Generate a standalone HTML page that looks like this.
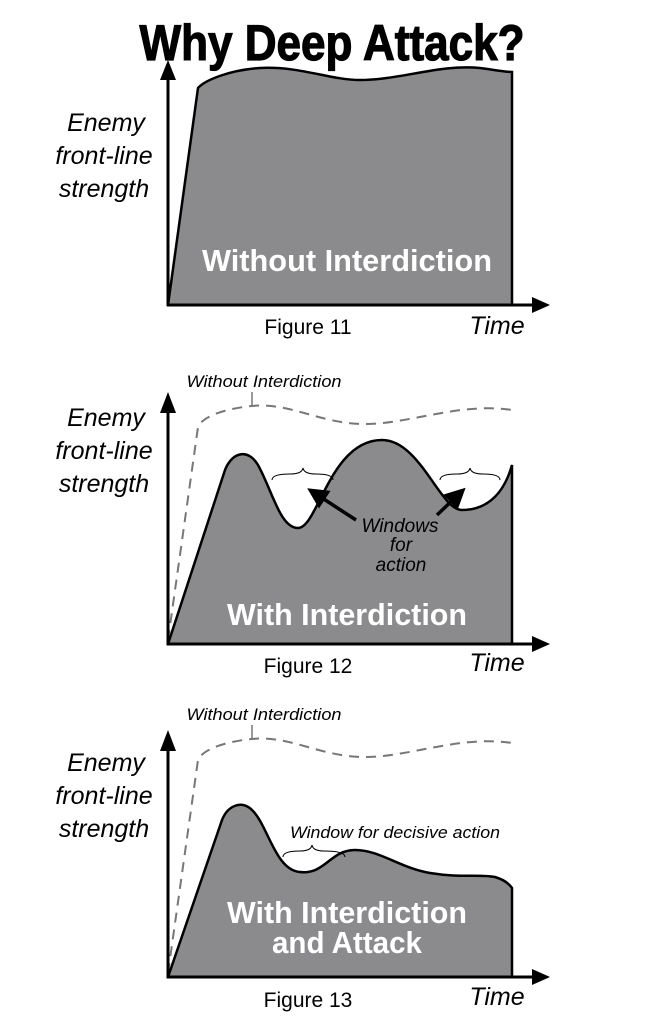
<!DOCTYPE html>
<html><head><style>
body{margin:0;background:#fff}
svg{display:block}
.it{font-family:"Liberation Sans",sans-serif;font-style:italic}
.b{font-family:"Liberation Sans",sans-serif;font-weight:bold;fill:#fff}
.f{font-family:"Liberation Sans",sans-serif;font-size:21px}
</style></head><body>
<svg width="645" height="1024" viewBox="0 0 645 1024">
<defs>
<marker id="ah" markerWidth="6" markerHeight="6" refX="3" refY="3" orient="auto"><path d="M0,0L6,3L0,6z" fill="#000"/></marker>
</defs>
<text x="332" y="60" text-anchor="middle" font-family="Liberation Sans,sans-serif" font-weight="bold" font-size="50" stroke="#000" stroke-width="1.2" textLength="385" lengthAdjust="spacingAndGlyphs">Why Deep Attack?</text>

<!-- Fig 11 -->
<g>
<path d="M168,305 L198,88 C205,80 230,70 260,68 C300,66 330,80 360,80 C400,80 440,64 480,68 C495,70 505,72 512,72 L512,305Z" fill="#8b8b8d" stroke="#000" stroke-width="2.5"/>
<line x1="168" y1="306" x2="168" y2="78" stroke="#000" stroke-width="3"/>
<path d="M160,80 L168,60 L176,80Z"/>
<line x1="167" y1="305" x2="535" y2="305" stroke="#000" stroke-width="3"/>
<path d="M532,297 L550,305 L532,313Z"/>
<text class="b" x="347" y="271" text-anchor="middle" font-size="31" textLength="290" lengthAdjust="spacingAndGlyphs">Without Interdiction</text>
<text class="f" x="308" y="334" text-anchor="middle">Figure 11</text>
<text class="it" x="497" y="334" text-anchor="middle" font-size="25">Time</text>
<g class="it" font-size="25" text-anchor="middle"><text x="106" y="131">Enemy</text><text x="104" y="164">front-line</text><text x="104" y="197">strength</text></g>
</g>

<!-- Fig 12 -->
<g>
<path d="M168,644 L225,470 C232,452 248,448 258,465 C272,490 280,528 298,528 C318,528 330,440 382,440 C420,440 440,510 462,510 C490,510 505,490 512,465 L512,644Z" fill="#8b8b8d" stroke="#000" stroke-width="2.5"/>
<path d="M168,640 L198,427 C203,415 230,408 252,406 C290,402 320,424 365,424 C410,424 460,402 512,410" fill="none" stroke="#777" stroke-width="2" stroke-dasharray="10,7"/>
<line x1="252" y1="406" x2="252" y2="392" stroke="#777" stroke-width="1.5"/>
<text class="it" x="264" y="387" text-anchor="middle" font-size="17" textLength="155" lengthAdjust="spacingAndGlyphs">Without Interdiction</text>
<path d="M272,480 Q272,474 290,474 Q302,474 303,468 Q304,474 316,474 Q333,474 333,480" fill="none" stroke="#000" stroke-width="1"/>
<path d="M440,480 Q440,474 457,474 Q469,474 470,468 Q471,474 483,474 Q500,474 500,480" fill="none" stroke="#000" stroke-width="1"/>
<line x1="356" y1="520" x2="316" y2="494" stroke="#000" stroke-width="3.5" marker-end="url(#ah)"/>
<line x1="437" y1="515" x2="458" y2="495" stroke="#000" stroke-width="3.5" marker-end="url(#ah)"/>
<g class="it" font-size="19" text-anchor="middle"><text x="400" y="532">Windows</text><text x="401" y="551">for</text><text x="401" y="571">action</text></g>
<line x1="168" y1="645" x2="168" y2="412" stroke="#000" stroke-width="3"/>
<path d="M160,413 L168,392 L176,413Z"/>
<line x1="167" y1="644" x2="535" y2="644" stroke="#000" stroke-width="3"/>
<path d="M532,636 L550,644 L532,652Z"/>
<text class="b" x="347" y="625" text-anchor="middle" font-size="31" textLength="240" lengthAdjust="spacingAndGlyphs">With Interdiction</text>
<text class="f" x="308" y="673" text-anchor="middle">Figure 12</text>
<text class="it" x="497" y="671" text-anchor="middle" font-size="25">Time</text>
<g class="it" font-size="25" text-anchor="middle"><text x="106" y="426">Enemy</text><text x="104" y="459">front-line</text><text x="104" y="492">strength</text></g>
</g>

<!-- Fig 13 -->
<g>
<path d="M168,977 L222,820 C228,805 242,800 252,810 C268,825 275,870 300,872 C325,875 330,850 355,850 C380,850 400,868 430,873 C460,878 480,874 495,877 C505,880 510,885 512,888 L512,977Z" fill="#8b8b8d" stroke="#000" stroke-width="2.5"/>
<path d="M168,973 L198,760 C203,748 230,741 252,739 C290,735 320,757 365,757 C410,757 460,735 512,743" fill="none" stroke="#777" stroke-width="2" stroke-dasharray="10,7"/>
<line x1="252" y1="739" x2="252" y2="725" stroke="#777" stroke-width="1.5"/>
<text class="it" x="264" y="720" text-anchor="middle" font-size="17" textLength="155" lengthAdjust="spacingAndGlyphs">Without Interdiction</text>
<path d="M283,857 Q283,851 300,851 Q311,851 312,845 Q313,851 324,851 Q345,851 345,857" fill="none" stroke="#000" stroke-width="1"/>
<text class="it" x="395" y="838" text-anchor="middle" font-size="17" textLength="210" lengthAdjust="spacingAndGlyphs">Window for  decisive action</text>
<line x1="168" y1="978" x2="168" y2="750" stroke="#000" stroke-width="3"/>
<path d="M160,751 L168,730 L176,751Z"/>
<line x1="167" y1="977" x2="535" y2="977" stroke="#000" stroke-width="3"/>
<path d="M532,969 L550,977 L532,985Z"/>
<text class="b" x="347" y="923" text-anchor="middle" font-size="31" textLength="240" lengthAdjust="spacingAndGlyphs">With Interdiction</text>
<text class="b" x="347" y="953" text-anchor="middle" font-size="31" textLength="150" lengthAdjust="spacingAndGlyphs">and Attack</text>
<text class="f" x="308" y="1007" text-anchor="middle">Figure 13</text>
<text class="it" x="497" y="1005" text-anchor="middle" font-size="25">Time</text>
<g class="it" font-size="25" text-anchor="middle"><text x="106" y="771">Enemy</text><text x="104" y="804">front-line</text><text x="104" y="837">strength</text></g>
</g>
</svg>
</body></html>
